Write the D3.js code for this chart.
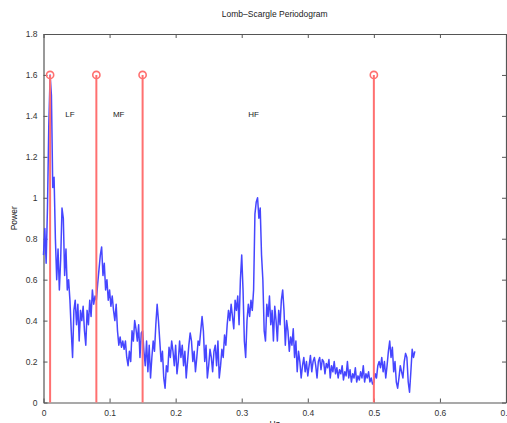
<!DOCTYPE html>
<html>
<head>
<meta charset="utf-8">
<script src="https://cdn.jsdelivr.net/npm/d3@7"></script>
<style>
  body { margin: 0; background: #fff; }
  text { font-family: "Liberation Sans", Arial, sans-serif; fill: #222; }
</style>
</head>
<body>
<svg id="chart" width="507" height="423"></svg>
<script>
// Lomb-Scargle periodogram values
var freqHz = [
  0.000,0.002,0.004,0.006,0.008,0.010,0.012,0.014,0.016,0.018,
  0.020,0.022,0.024,0.026,0.028,0.030,0.032,0.034,0.036,0.038,
  0.040,0.042,0.044,0.046,0.048,0.050,0.052,0.054,0.056,0.058,
  0.060,0.062,0.064,0.066,0.068,0.070,0.072,0.074,0.076,0.078,
  0.080,0.082,0.084,0.086,0.088,0.090,0.092,0.094,0.096,0.098,
  0.100,0.102,0.104,0.106,0.108,0.110,0.112,0.114,0.116,0.118,
  0.120,0.122,0.124,0.126,0.128,0.130,0.132,0.134,0.136,0.138,
  0.140,0.142,0.144,0.146,0.148,0.150,0.152,0.154,0.156,0.158,
  0.160,0.162,0.164,0.166,0.168,0.170,0.172,0.174,0.176,0.178,
  0.180,0.182,0.184,0.186,0.188,0.190,0.192,0.194,0.196,0.198,
  0.200,0.202,0.204,0.206,0.208,0.210,0.212,0.214,0.216,0.218,
  0.220,0.222,0.224,0.226,0.228,0.230,0.232,0.234,0.236,0.238,
  0.240,0.242,0.244,0.246,0.248,0.250,0.252,0.254,0.256,0.258,
  0.260,0.262,0.264,0.266,0.268,0.270,0.272,0.274,0.276,0.278,
  0.280,0.282,0.284,0.286,0.288,0.290,0.292,0.294,0.296,0.298,
  0.300,0.302,0.304,0.306,0.308,0.310,0.312,0.314,0.316,0.318,
  0.320,0.322,0.324,0.326,0.328,0.330,0.332,0.334,0.336,0.338,
  0.340,0.342,0.344,0.346,0.348,0.350,0.352,0.354,0.356,0.358,
  0.360,0.362,0.364,0.366,0.368,0.370,0.372,0.374,0.376,0.378,
  0.380,0.382,0.384,0.386,0.388,0.390,0.392,0.394,0.396,0.398,
  0.400,0.402,0.404,0.406,0.408,0.410,0.412,0.414,0.416,0.418,
  0.420,0.422,0.424,0.426,0.428,0.430,0.432,0.434,0.436,0.438,
  0.440,0.442,0.444,0.446,0.448,0.450,0.452,0.454,0.456,0.458,
  0.460,0.462,0.464,0.466,0.468,0.470,0.472,0.474,0.476,0.478,
  0.480,0.482,0.484,0.486,0.488,0.490,0.492,0.494,0.496,0.498,
  0.500,0.502,0.504,0.506,0.508,0.510,0.512,0.514,0.516,0.518,
  0.520,0.522,0.524,0.526,0.528,0.530,0.532,0.534,0.536,0.538,
  0.540,0.542,0.544,0.546,0.548,0.550,0.552,0.554,0.556,0.558,
  0.560,0.562
];
var power = [
  0.72,0.85,0.68,0.95,1.35,1.60,1.50,1.05,1.10,0.80,
  0.60,0.75,0.55,0.70,0.95,0.90,0.62,0.75,0.55,0.60,
  0.50,0.35,0.22,0.45,0.50,0.38,0.48,0.30,0.45,0.40,
  0.47,0.35,0.28,0.45,0.38,0.50,0.42,0.55,0.48,0.52,
  0.50,0.58,0.65,0.72,0.76,0.62,0.68,0.55,0.60,0.50,
  0.55,0.47,0.52,0.45,0.40,0.48,0.35,0.28,0.32,0.27,
  0.30,0.26,0.30,0.22,0.18,0.25,0.20,0.35,0.30,0.40,
  0.36,0.30,0.38,0.22,0.34,0.35,0.25,0.18,0.30,0.15,
  0.28,0.12,0.22,0.30,0.25,0.38,0.48,0.40,0.30,0.20,
  0.25,0.12,0.07,0.18,0.15,0.27,0.22,0.30,0.25,0.18,
  0.28,0.14,0.20,0.30,0.22,0.28,0.18,0.25,0.12,0.20,
  0.28,0.34,0.30,0.20,0.25,0.15,0.22,0.30,0.28,0.35,
  0.42,0.35,0.20,0.28,0.12,0.18,0.26,0.22,0.15,0.25,
  0.28,0.18,0.30,0.12,0.18,0.26,0.22,0.33,0.28,0.38,
  0.45,0.40,0.48,0.42,0.36,0.50,0.45,0.52,0.38,0.60,
  0.72,0.55,0.30,0.22,0.40,0.48,0.42,0.50,0.45,0.55,
  0.92,0.98,1.00,0.90,0.95,0.72,0.60,0.35,0.30,0.48,
  0.42,0.52,0.38,0.45,0.30,0.47,0.40,0.30,0.45,0.38,
  0.50,0.55,0.45,0.28,0.40,0.35,0.25,0.32,0.28,0.36,
  0.22,0.30,0.15,0.25,0.20,0.12,0.18,0.22,0.15,0.20,
  0.13,0.18,0.23,0.15,0.20,0.22,0.18,0.12,0.20,0.22,
  0.16,0.21,0.20,0.14,0.19,0.17,0.21,0.12,0.18,0.15,
  0.20,0.14,0.17,0.12,0.16,0.14,0.18,0.11,0.15,0.13,
  0.20,0.12,0.16,0.10,0.14,0.12,0.17,0.10,0.13,0.11,
  0.15,0.12,0.18,0.10,0.14,0.12,0.15,0.10,0.12,0.09,
  0.10,0.14,0.12,0.18,0.20,0.17,0.22,0.15,0.20,0.12,
  0.18,0.25,0.30,0.22,0.27,0.15,0.20,0.10,0.07,0.12,
  0.18,0.15,0.12,0.20,0.24,0.22,0.10,0.05,0.15,0.26,
  0.22,0.25
];

// band edges drawn as stems
var bandEdges = [0.01, 0.08, 0.15, 0.5];
var stemHeight = 1.6;
var bandLabels = ['LF', 'MF', 'HF'];
var bandLabelX = [0.033, 0.105, 0.31];
var bandLabelY = 1.41;

var xTicks = [0, 0.1, 0.2, 0.3, 0.4, 0.5, 0.6, 0.7];
var xTickLabels = ['0', '0.1', '0.2', '0.3', '0.4', '0.5', '0.6', '0.7'];
var yTicks = [0, 0.2, 0.4, 0.6, 0.8, 1, 1.2, 1.4, 1.6, 1.8];
var yTickLabels = ['0', '0.2', '0.4', '0.6', '0.8', '1', '1.2', '1.4', '1.6', '1.8'];

var margin = { top: 34, right: 1, bottom: 20.5, left: 43.5 },
    width = 507 - margin.left - margin.right,
    height = 423 - margin.top - margin.bottom;

var svg = d3.select('#chart');
var g = svg.append('g')
    .attr('transform', `translate(${margin.left},${margin.top})`);

var x = d3.scaleLinear().domain([0, 0.7]).range([0, width]);
var y = d3.scaleLinear().domain([0, 1.8]).range([height, 0]);

// MATLAB style box with inward ticks on all sides
var tickLen = 4;
function fmt(list, ticks) { return (d) => list[ticks.indexOf(d)]; }

g.append('g')
    .attr('transform', `translate(0,${height})`)
    .call(d3.axisBottom(x).tickValues(xTicks).tickFormat(fmt(xTickLabels, xTicks))
        .tickSizeInner(-tickLen).tickSizeOuter(0).tickPadding(7));
g.append('g')
    .call(d3.axisTop(x).tickValues(xTicks).tickFormat('')
        .tickSizeInner(-tickLen).tickSizeOuter(0));
g.append('g')
    .call(d3.axisLeft(y).tickValues(yTicks).tickFormat(fmt(yTickLabels, yTicks))
        .tickSizeInner(-tickLen).tickSizeOuter(0).tickPadding(6));
g.append('g')
    .attr('transform', `translate(${width},0)`)
    .call(d3.axisRight(y).tickValues(yTicks).tickFormat('')
        .tickSizeInner(-tickLen).tickSizeOuter(0));

g.selectAll('.domain').attr('stroke', '#555').attr('stroke-width', 1.2);
g.selectAll('.tick line').attr('stroke', '#555');
g.selectAll('.tick text').style('font-size', '8.5px').style('fill', '#333');

// periodogram trace
var pts = freqHz.map((f, i) => [f, power[i]]);
g.append('path')
    .datum(pts)
    .attr('fill', 'none')
    .attr('stroke', '#4646ff')
    .attr('stroke-width', 1.5)
    .attr('stroke-linejoin', 'round')
    .attr('d', d3.line().x(d => x(d[0])).y(d => y(d[1])));

// band stems
var stems = g.selectAll('.stem')
    .data(bandEdges)
    .enter()
    .append('g')
    .attr('class', 'stem');
stems.append('line')
    .attr('x1', d => x(d)).attr('x2', d => x(d))
    .attr('y1', y(0)).attr('y2', y(stemHeight))
    .attr('stroke', '#ff7070')
    .attr('stroke-width', 2);
stems.append('circle')
    .attr('cx', d => x(d))
    .attr('cy', y(stemHeight))
    .attr('r', 3.6)
    .attr('fill', 'none')
    .attr('stroke', '#ff7070')
    .attr('stroke-width', 1.6);

// band labels
g.selectAll('.band-label')
    .data(bandLabels)
    .enter()
    .append('text')
    .attr('class', 'band-label')
    .attr('x', (d, i) => x(bandLabelX[i]))
    .attr('y', y(bandLabelY))
    .attr('dy', '0.35em')
    .style('font-size', '8px')
    .text(d => d);

// title and axis labels
svg.append('text')
    .attr('x', margin.left + width / 2)
    .attr('y', 17)
    .attr('text-anchor', 'middle')
    .style('font-size', '8.5px')
    .text('Lomb\u2013Scargle Periodogram');

svg.append('text')
    .attr('x', margin.left + width / 2)
    .attr('y', 427)
    .attr('text-anchor', 'middle')
    .style('font-size', '8.5px')
    .text('Hz');

svg.append('text')
    .attr('transform', `translate(17,${margin.top + height / 2}) rotate(-90)`)
    .attr('text-anchor', 'middle')
    .style('font-size', '8.5px')
    .text('Power');
</script>
</body>
</html>
